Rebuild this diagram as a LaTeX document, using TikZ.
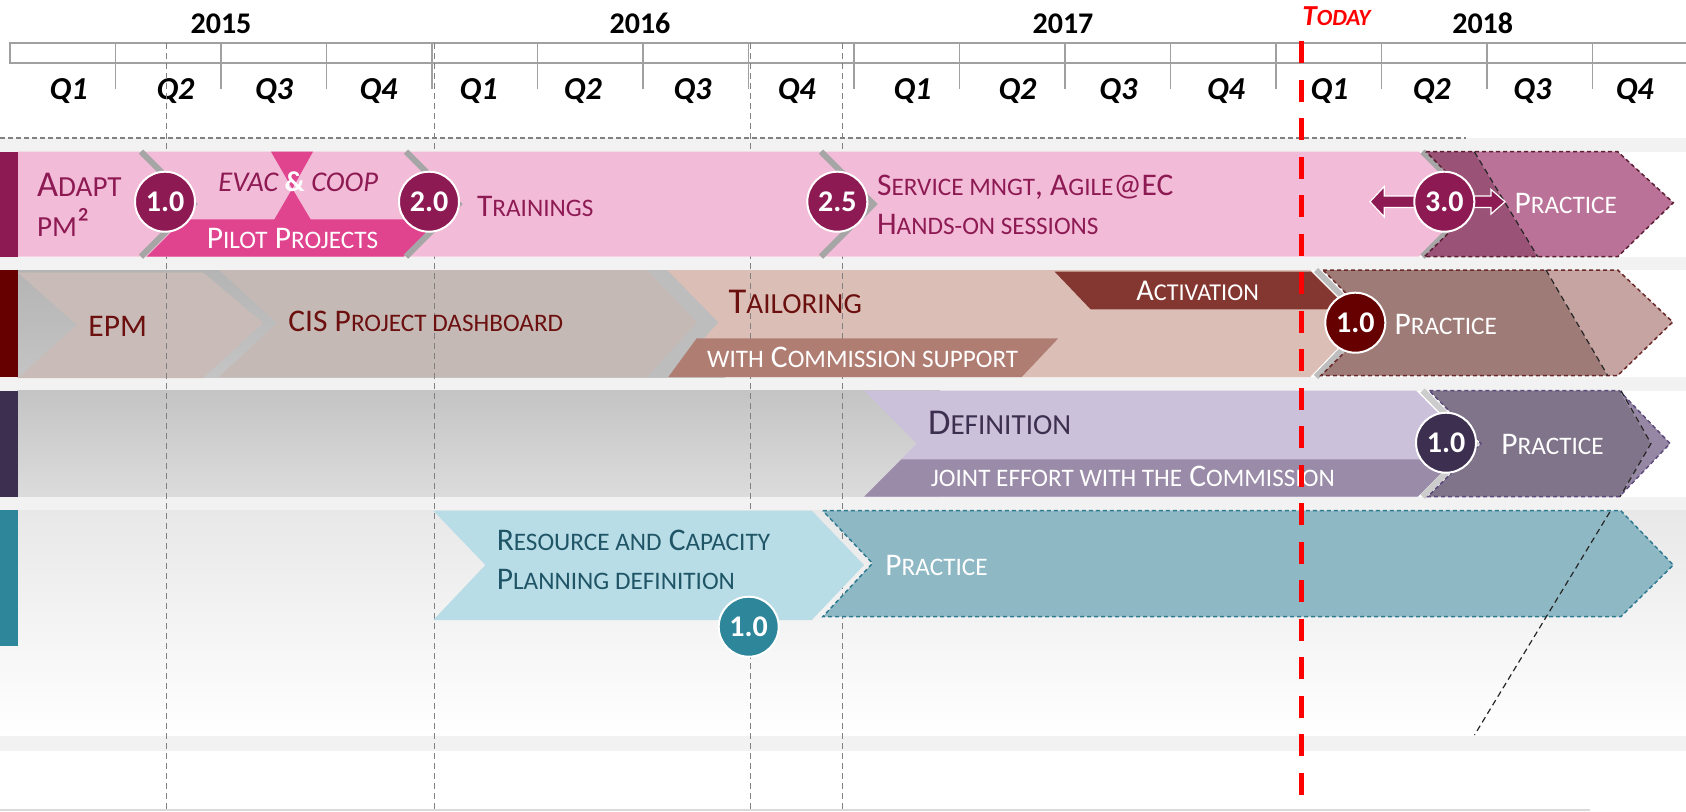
\documentclass[tikz,border=0pt]{standalone}
\usepackage{fontspec}
\setmainfont{Carlito}
\makeatletter
\newcommand\smc[1]{{\fontsize{\fpeval{0.8*\f@size}}{\f@baselineskip}\selectfont #1}}
\makeatother
\definecolor{bandgray}{HTML}{F2F2F2}
\definecolor{dgray}{HTML}{808080}
\definecolor{tlgray}{HTML}{A0A0A0}
\definecolor{mag}{HTML}{8E1A54}
\definecolor{pinkA}{HTML}{F2BBD7}
\definecolor{pilot}{HTML}{E0448F}
\definecolor{pmagD}{HTML}{9A5276}
\definecolor{pmagL}{HTML}{BB7298}
\definecolor{pmagB}{HTML}{5C1F33}
\definecolor{shgray}{HTML}{A6A6A6}
\definecolor{shgrayB}{HTML}{BDBDBD}
\definecolor{dred}{HTML}{660000}
\definecolor{dredT}{HTML}{6B0F0F}
\definecolor{epmC}{HTML}{C9BBB7}
\definecolor{cisC}{HTML}{C5B9B5}
\definecolor{tailC}{HTML}{DBBFB6}
\definecolor{actC}{HTML}{843730}
\definecolor{withC}{HTML}{B07D73}
\definecolor{predD}{HTML}{9E7B77}
\definecolor{predL}{HTML}{C6A4A1}
\definecolor{predB}{HTML}{6B2A2A}
\definecolor{purp}{HTML}{3D2F4F}
\definecolor{defC}{HTML}{CBC1DA}
\definecolor{jointC}{HTML}{9A8BA8}
\definecolor{ppurD}{HTML}{7F7489}
\definecolor{ppurL}{HTML}{9688A5}
\definecolor{ppurB}{HTML}{5E4A7C}
\definecolor{teal}{HTML}{2E869A}
\definecolor{tealT}{HTML}{1F5566}
\definecolor{blueC}{HTML}{B8DDE7}
\definecolor{ptealC}{HTML}{8FB8C5}
\definecolor{ptealB}{HTML}{2E7A90}
\definecolor{bgA}{HTML}{C4C4C4}
\definecolor{bgB}{HTML}{DCDCDC}
\begin{document}
\begin{tikzpicture}[x=0.5pt,y=-0.5pt,
  lbl/.style={inner sep=0pt, anchor=base west, font=\fontsize{15.75}{19}\selectfont},
  biglbl/.style={inner sep=0pt, anchor=base west, font=\fontsize{18.2}{21}\selectfont},
  numc/.style={circle, draw=white, line width=1pt, minimum size=30pt, inner sep=0pt, text=white, font=\bfseries\fontsize{15}{15}\selectfont},
  vdash/.style={draw=dgray, line width=0.5pt, dash pattern=on 3pt off 2pt},
  shadowline/.style={line width=3pt, line join=miter},
  pborder/.style={line width=0.75pt, dash pattern=on 2pt off 1.5pt},
  idash/.style={draw=black!85, line width=0.6pt, dash pattern=on 3pt off 2pt},
  yearlbl/.style={inner sep=0pt, anchor=base, font=\bfseries\fontsize{15}{15}\selectfont},
  qlbl/.style={inner sep=0pt, anchor=base, font=\bfseries\itshape\fontsize{16}{16}\selectfont},
  tick/.style={draw=tlgray, line width=0.75pt},
  todayline/.style={draw=red, line width=2.5pt, dash pattern=on 11pt off 8.25pt},
  arrowpoly/.style={fill=mag, draw=white, line width=0.6pt, line join=miter}
]
\useasboundingbox (0,0) rectangle (1686,811);
\fill[white] (0,0) rectangle (1686,811);

% gray separator bands
\fill[bandgray] (0,138.3) rectangle (1686,151.7);
\fill[bandgray] (0,256.7) rectangle (1686,270);
\fill[bandgray] (0,377) rectangle (1686,390.7);
\fill[bandgray] (0,496.7) rectangle (1686,510);
\fill[bandgray] (0,735) rectangle (1686,750.7);
\draw[bandgray!90!black, line width=0.6pt] (0,810) -- (1590,810);

% row backgrounds
\fill[top color=bgA!92!black, bottom color=bgA] (17.7,270) rectangle (725,377);
\fill[top color=bgA, bottom color=bgB] (17.7,390.7) rectangle (940,496.7);
\fill[top color=black!9, bottom color=white] (0,510) rectangle (1686,735);

% timeline
\draw[tlgray, line width=0.75pt, fill=white] (1686,43) -- (10,43) -- (10,63) -- (1686,63);
\foreach \k in {1,...,15} \draw[tick] ({10+105.5*\k},43) -- ({10+105.5*\k},89);
\node[yearlbl] (y2015) at (221,33.3) {2015};
\node[yearlbl] (y2016) at (640,33.3) {2016};
\node[yearlbl] (y2017) at (1063,33.3) {2017};
\node[yearlbl] (y2018) at (1482.7,33.3) {2018};
\foreach \qx/\ql [count=\i] in {68.6/Q1,175.5/Q2,274/Q3,378.5/Q4,478.6/Q1,582.8/Q2,692.5/Q3,796.7/Q4,912.5/Q1,1017.5/Q2,1118.3/Q3,1226/Q4,1329.5/Q1,1431.7/Q2,1532.4/Q3,1634.7/Q4}
  \node[qlbl] (q\i) at (\qx,99) {\ql};
\draw[dgray, line width=0.6pt, dash pattern=on 2.5pt off 1.5pt] (0,138) -- (1466,138);

% row 2 left chevrons (lines show through)
\fill[tailC] (667,270) -- (1310,270) -- (1362.5,322.5) -- (1310,377) -- (668,377) -- (718.3,322.5) -- cycle;
\fill[shgrayB] (645,270) -- (667,270) -- (718.3,322.5) -- (668,377) -- (645,377) -- (697,322.5) -- cycle;
\fill[cisC] (219,270) -- (647,270) -- (697,322.5) -- (647,377) -- (219,377) -- (277,323) -- cycle;
\fill[epmC] (17.7,272.5) -- (203,272.5) -- (263,323) -- (203,378) -- (17.7,378) -- (77,325) -- cycle;

% vertical dashed guides
\foreach \vx in {166,434,750,842} \draw[vdash] (\vx,43) -- (\vx,811);

% ================= ROW 1 =================
\fill[pinkA] (17.7,151.7) -- (1419,151.7) -- (1471,204.2) -- (1419,256.7) -- (17.7,256.7) -- cycle;
\fill[pilot] (146.7,256.7) -- (184,219.3) -- (440.7,219.3) -- (403.3,256.7) -- cycle;
\fill[pilot] (271,151.7) -- (313,151.7) -- (292.3,188.6) -- cycle;
\fill[pilot] (292.3,188.6) -- (311,220) -- (274,220) -- cycle;
\draw[shadowline, shgray] (141,151.7) -- (193.5,204.2) -- (141,256.7);
\draw[shadowline, shgray] (406,151.7) -- (458.5,204.2) -- (406,256.7);
\draw[shadowline, shgray] (821,151.7) -- (873.5,204.2) -- (821,256.7);
\draw[shadowline, shgray] (1422.5,151.7) -- (1475,204.2) -- (1422.5,256.7);
\fill[pmagD] (1426,151.7) -- (1474.3,151.7) -- (1537.7,256.7) -- (1424.3,256.7) -- (1478,204.2) -- cycle;
\fill[pmagL] (1474.3,151.7) -- (1617.7,151.7) -- (1673.3,202.7) -- (1617.7,256.7) -- (1537.7,256.7) -- cycle;
\draw[pborder, draw=pmagB] (1426,151.7) -- (1617.7,151.7) -- (1673.3,202.7) -- (1617.7,256.7) -- (1424.3,256.7) -- (1478,204.2) -- cycle;
\draw[idash] (1474.3,151.7) -- (1537.7,256.7);
\filldraw[arrowpoly] (1370,201.7) -- (1384.3,186.4) -- (1384.3,196) -- (1418,196) -- (1418,207.4) -- (1384.3,207.4) -- (1384.3,217) -- cycle;
\filldraw[arrowpoly] (1470,196) -- (1491,196) -- (1491,189.4) -- (1505,201.7) -- (1491,214) -- (1491,207.4) -- (1470,207.4) -- cycle;

\node[biglbl, text=mag] (adapt) at (36.7,196.7) {A\smc{DAPT}};
\node[biglbl, text=mag] (pm2) at (36.7,236.7) {\smc{PM}²};
\node[inner sep=0pt, anchor=base, text=mag, font=\fontsize{14.3}{16}\selectfont] (evac) at (298.3,191.7) {\itshape EVAC {\upshape\bfseries\color{white}\&} COOP};
\node[lbl, anchor=base, text=white] (pilotT) at (292.5,248.3) {P\smc{ILOT} P\smc{ROJECTS}};
\node[lbl, text=mag] (train) at (476.7,216) {T\smc{RAININGS}};
\node[lbl, text=mag] (serv) at (876.7,195.7) {S\smc{ERVICE MNGT}, A\smc{GILE}@EC};
\node[lbl, text=mag] (hands) at (876.7,234) {H\smc{ANDS-ON SESSIONS}};
\node[lbl, text=white] (prac1) at (1514.3,213.3) {P\smc{RACTICE}};
\node[numc, fill=mag] (c10) at (165,201.7) {1.0};
\node[numc, fill=mag] (c20) at (429,201.7) {2.0};
\node[numc, fill=mag] (c25) at (837.3,201.7) {2.5};
\node[numc, fill=mag] (c30) at (1444.3,201.7) {3.0};

% ================= ROW 2 =================
\fill[withC] (668.3,377) -- (696.7,338.3) -- (1058.3,338.3) -- (1021.7,377) -- cycle;
\fill[actC] (1054.7,271.7) -- (1311,271.7) -- (1348.6,309.3) -- (1090.6,309.3) -- cycle;
\draw[shadowline, shgrayB] (1316,270) -- (1368.5,322.5) -- (1316,377);
\fill[predD] (1323,270) -- (1546,270) -- (1607.7,375.5) -- (1321,375.5) -- (1375,322.5) -- cycle;
\fill[predL] (1546,270) -- (1617.7,270) -- (1672.7,322) -- (1617.7,375.5) -- (1607.7,375.5) -- cycle;
\draw[pborder, draw=predB] (1323,270) -- (1617.7,270) -- (1672.7,322) -- (1617.7,375.5) -- (1321,375.5) -- (1375,322.5) -- cycle;
\draw[idash] (1546,270) -- (1607.7,375.5);
\node[lbl, text=dredT] (epm) at (88,336.7) {EPM};
\node[lbl, text=dredT] (cis) at (288,331.7) {CIS P\smc{ROJECT DASHBOARD}};
\node[biglbl, text=dredT] (tail) at (728.3,313.3) {T\smc{AILORING}};
\node[lbl, text=white, font=\fontsize{15.1}{18}\selectfont] (act) at (1136,300.7) {A\smc{CTIVATION}};
\node[lbl, text=white] (withT) at (706.7,367.3) {\smc{WITH} C\smc{OMMISSION SUPPORT}};
\node[lbl, text=white] (prac2) at (1394.3,334) {P\smc{RACTICE}};
\node[numc, fill=dred] (c2b) at (1355.3,322.7) {1.0};

% ================= ROW 3 =================
\fill[defC] (864.2,390.7) -- (1416,390.7) -- (1468.5,443.5) -- (1417.7,496.7) -- (864.2,496.7) -- (916.7,443.5) -- cycle;
\fill[jointC] (901.5,459.3) -- (1455,459.3) -- (1417.7,496.7) -- (864.2,496.7) -- cycle;
\draw[shadowline, black!20] (1422.5,390.7) -- (1475,443.5) -- (1422.5,496.7);
\fill[ppurD] (1429.3,390.7) -- (1619.3,390.7) -- (1651,443.5) -- (1619.3,496.7) -- (1427.7,496.7) -- (1481,443.5) -- cycle;
\fill[ppurL] (1619.3,390.7) -- (1670,443.5) -- (1619.3,496.7) -- (1651,443.5) -- cycle;
\draw[pborder, draw=ppurB] (1429.3,390.7) -- (1619.3,390.7) -- (1670,443.5) -- (1619.3,496.7) -- (1427.7,496.7) -- (1481,443.5) -- cycle;
\draw[idash] (1621,390.7) -- (1651,443.5) -- (1620,496.7);
\node[biglbl, text=purp] (defT) at (927.7,434.3) {D\smc{EFINITION}};
\node[lbl, text=white] (joint) at (930.5,486.7) {\smc{JOINT EFFORT WITH THE} C\smc{OMMISSION}};
\node[lbl, text=white] (prac3) at (1501,454) {P\smc{RACTICE}};
\node[numc, fill=purp] (c3b) at (1446,442.7) {1.0};

% ================= ROW 4 =================
\fill[blueC] (433.3,510.7) -- (811.8,510.7) -- (864,565) -- (811.8,620) -- (433.3,620) -- (485.4,565) -- cycle;
\fill[ptealC] (822.8,510.7) -- (1620.8,510.7) -- (1673.3,565) -- (1620.8,616.7) -- (822.8,616.7) -- (872.5,563.3) -- cycle;
\draw[pborder, draw=ptealB] (822.8,510.7) -- (1620.8,510.7) -- (1673.3,565) -- (1620.8,616.7) -- (822.8,616.7) -- (872.5,563.3) -- cycle;
\coordinate (slA) at (1609.8,512);
\coordinate (slB) at (1474.5,735);
\draw[idash] (slA) -- (slB);
\node[lbl, text=tealT] (res1) at (496.4,550.7) {R\smc{ESOURCE AND} C\smc{APACITY}};
\node[lbl, text=tealT] (res2) at (496.4,589.3) {P\smc{LANNING DEFINITION}};
\node[lbl, text=white] (prac4) at (885,575) {P\smc{RACTICE}};
\node[numc, fill=teal] (c4b) at (748.7,626.7) {1.0};

% left bars
\fill[mag] (0,151.7) rectangle (17.7,256.7);
\fill[dred] (0,270) rectangle (17.7,377);
\fill[purp] (0,390.7) rectangle (17.7,496.7);
\fill[teal] (0,510) rectangle (17.7,645.7);

% today
\coordinate (tTop) at (1301.7,41.3);
\coordinate (tBot) at (1301.7,811);
\draw[todayline] (tTop) -- (tBot);
\node[inner sep=0pt, anchor=base west, text=red, font=\bfseries\itshape\fontsize{14.5}{16}\selectfont] (today) at (1302,25) {T\smc{ODAY}};
\end{tikzpicture}
\end{document}
